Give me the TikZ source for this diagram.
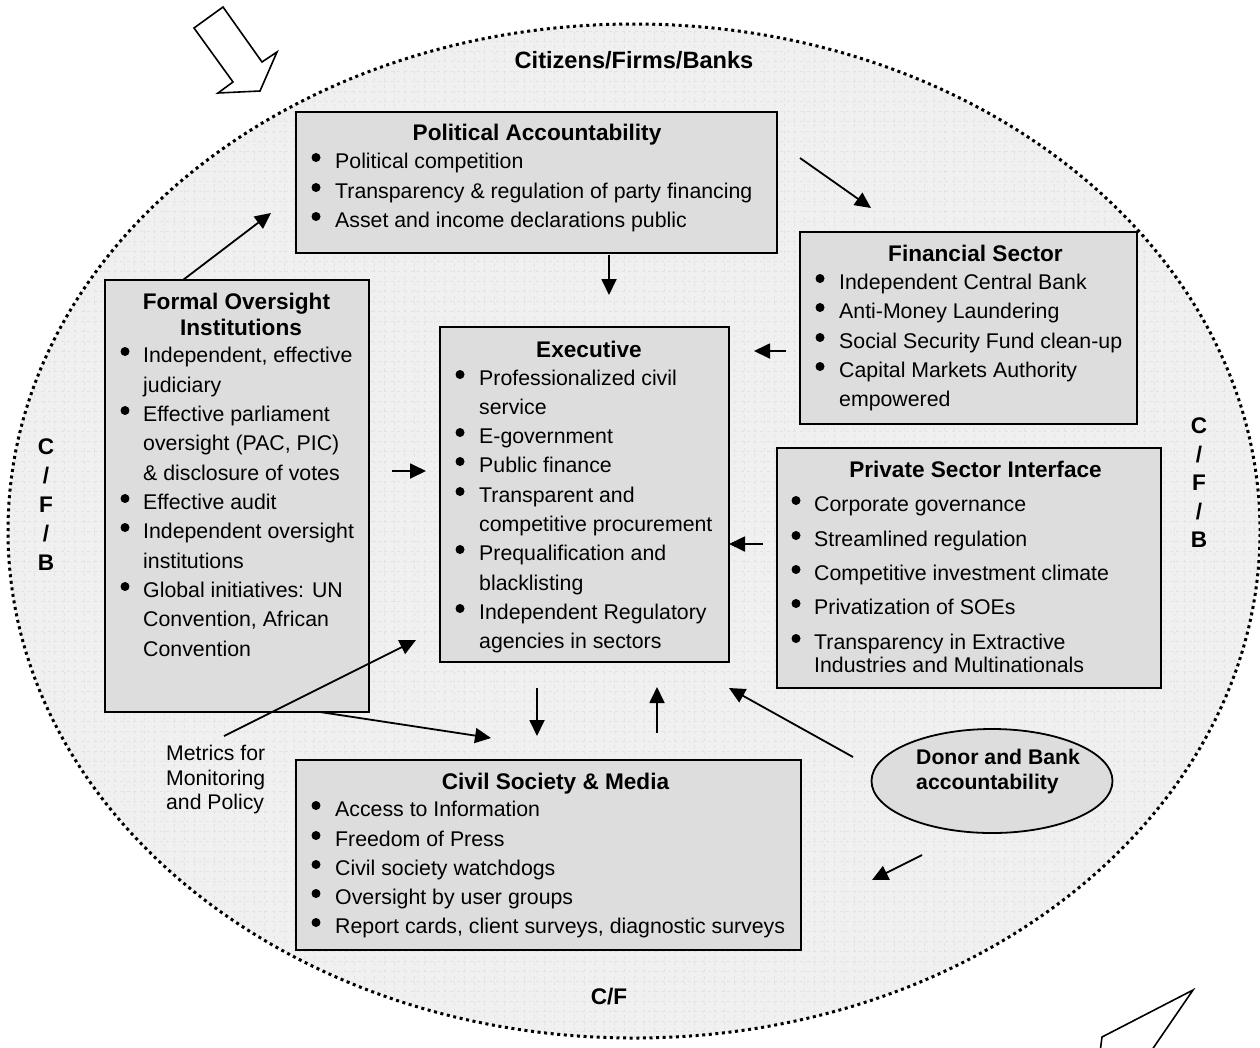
\documentclass[tikz,border=0pt]{standalone}
\usepackage{fontspec}
\setmainfont{Liberation Sans}
\usetikzlibrary{arrows.meta,shapes.geometric}
\definecolor{boxgray}{HTML}{DDDDDD}
\definecolor{bggray}{HTML}{F0F0F0}
\definecolor{gridgray}{HTML}{E3E3E3}
\begin{document}
\begin{tikzpicture}[x=1pt,y=-1pt,
  box/.style={draw=black,line width=1.8pt,fill=boxgray,rectangle,inner sep=0pt,outer sep=0pt},
  ttl/.style={font=\fontsize{22.6}{26}\selectfont\bfseries,anchor=base,inner sep=0pt},
  txt/.style={font=\fontsize{21.3}{25}\selectfont,anchor=base west,inner sep=0pt},
  conn/.style={line width=1.8pt,-{Triangle[length=16pt,width=15pt]}},
  bigarrow/.style={draw=black,line width=1.6pt,fill=white,line join=miter},
]
\useasboundingbox (0,0) rectangle (1260,1047);
\clip (0,0) rectangle (1260,1047);
\fill[white] (0,0) rectangle (1260,1047);

% world ellipse
\node[ellipse,draw=black,fill=bggray,minimum width=1252pt,minimum height=1014pt,inner sep=0pt,
  line width=3pt,dash pattern=on 3pt off 3.6pt,
  path picture={\draw[gridgray,line width=0.7pt] (path picture bounding box.south west) grid[step=10pt] (path picture bounding box.north east);}
  ] (world) at (634,531) {};

% big outline arrows
\draw[bigarrow] (194,28) -- (223,7) -- (262,62) -- (277,52) -- (260,91) -- (218,93) -- (233,82) -- cycle;
\draw[bigarrow] (1099,1060) -- (1102,1037) -- (1193,990) -- (1145,1060);

% outer labels
\node[font=\fontsize{23.6}{28}\selectfont\bfseries,anchor=base,inner sep=0pt] (cfb) at (634,68) {Citizens/Firms/Banks};
\node[ttl] (cf) at (609,1004) {C/F};
\node[font=\fontsize{22.6}{29}\selectfont\bfseries,align=center,inner sep=0pt] (cfbl) at (46,505) {C\\/\\F\\/\\B};
\node[font=\fontsize{22.6}{28.5}\selectfont\bfseries,align=center,inner sep=0pt] (cfbr) at (1199,483) {C\\/\\F\\/\\B};

% boxes
\node[box,minimum width=481pt,minimum height=141pt] (pol) at (536.5,182.5) {};
\node[box,minimum width=337pt,minimum height=192pt] (fin) at (968.5,328) {};
\node[box,minimum width=264pt,minimum height=432pt] (fos) at (237,496) {};
\node[box,minimum width=289pt,minimum height=335pt] (exe) at (584.5,494.5) {};
\node[box,minimum width=384pt,minimum height=240pt] (psi) at (969,568) {};
\node[box,minimum width=505pt,minimum height=190pt] (civ) at (548.5,855) {};
\node[ellipse,draw=black,line width=1.8pt,fill=boxgray,minimum width=241pt,minimum height=104pt,inner sep=0pt] (don) at (992,781) {};

% Political Accountability
\node[ttl] (polt) at (537,140.5) {Political Accountability};
\foreach \yy/\bb/\tx [count=\i] in {
  168.5/1/Political competition,
  198.5/1/Transparency \& regulation of party financing,
  227.5/1/Asset and income declarations public}{
  \node[txt] (pol-l\i) at (335,\yy) {\tx};
  \ifnum\bb=1 \fill (316,\yy-11) circle[radius=4.5pt]; \fi}

% Financial Sector
\node[ttl] (fint) at (975.5,261) {Financial Sector};
\foreach \yy/\bb/\tx [count=\i] in {
  289.5/1/Independent Central Bank,
  318.5/1/Anti-Money Laundering,
  348.5/1/Social Security Fund clean-up,
  377.5/1/Capital Markets Authority,
  406.5/0/empowered}{
  \node[txt] (fin-l\i) at (839,\yy) {\tx};
  \ifnum\bb=1 \fill (820,\yy-11) circle[radius=4.5pt]; \fi}

% Formal Oversight Institutions
\node[ttl] (fost1) at (236.5,309) {Formal Oversight};
\node[ttl] (fost2) at (241,335) {Institutions};
\foreach \yy/\bb/\tx [count=\i] in {
  362.5/1/{Independent, effective},
  392.5/0/judiciary,
  421.5/1/Effective parliament,
  450.5/0/{oversight (PAC, PIC)},
  480.5/0/\& disclosure of votes,
  509.5/1/Effective audit,
  538.5/1/Independent oversight,
  568.5/0/institutions,
  597.5/1/Global initiatives: UN,
  626.5/0/{Convention, African},
  656.5/0/Convention}{
  \node[txt] (fos-l\i) at (143,\yy) {\tx};
  \ifnum\bb=1 \fill (125,\yy-11) circle[radius=4.5pt]; \fi}

% Executive
\node[ttl] (exet) at (589,357) {Executive};
\foreach \yy/\bb/\tx [count=\i] in {
  385.5/1/Professionalized civil,
  414.5/0/service,
  443.5/1/E-government,
  472.5/1/Public finance,
  502.5/1/Transparent and,
  531.5/0/competitive procurement,
  560.5/1/Prequalification and,
  590.5/0/blacklisting,
  619.5/1/Independent Regulatory,
  648.5/0/agencies in sectors}{
  \node[txt] (exe-l\i) at (479,\yy) {\tx};
  \ifnum\bb=1 \fill (460,\yy-11) circle[radius=4.5pt]; \fi}

% Private Sector Interface
\node[ttl] (psit) at (975.5,477) {Private Sector Interface};
\foreach \yy/\bb/\tx [count=\i] in {
  511.5/1/Corporate governance,
  546.5/1/Streamlined regulation,
  580.5/1/Competitive investment climate,
  614.5/1/Privatization of SOEs,
  649.5/1/Transparency in Extractive,
  672.5/0/Industries and Multinationals}{
  \node[txt] (psi-l\i) at (814,\yy) {\tx};
  \ifnum\bb=1 \fill (796,\yy-11) circle[radius=4.5pt]; \fi}

% Civil Society & Media
\node[ttl] (civt) at (555.5,789) {Civil Society \& Media};
\foreach \yy/\bb/\tx [count=\i] in {
  816.5/1/Access to Information,
  846.5/1/Freedom of Press,
  875.5/1/Civil society watchdogs,
  904.5/1/Oversight by user groups,
  933.5/1/{Report cards, client surveys, diagnostic surveys}}{
  \node[txt] (civ-l\i) at (335,\yy) {\tx};
  \ifnum\bb=1 \fill (316,\yy-11) circle[radius=4.5pt]; \fi}

% Donor text
\node[font=\fontsize{21.2}{25}\selectfont\bfseries,align=left,anchor=west,inner sep=0pt] (dont) at (916,771.5) {Donor and Bank\\accountability};

% Metrics text
\node[font=\fontsize{21.2}{24.5}\selectfont,align=left,anchor=west,inner sep=0pt] (met) at (166,780) {Metrics for\\Monitoring\\and Policy};

% connector end points
\coordinate (a1s) at (183,280);  \coordinate (a1e) at (271,213);
\coordinate (a2s) at (800,158);  \coordinate (a2e) at (871,208);
\coordinate (a3s) at (609,255);  \coordinate (a3e) at (609,295);
\coordinate (a4s) at (786,351);  \coordinate (a4e) at (754,351);
\coordinate (a5s) at (392,471);  \coordinate (a5e) at (426,471);
\coordinate (a6s) at (763,544);  \coordinate (a6e) at (729,544);
\coordinate (a7s) at (224,736);  \coordinate (a7e) at (416,640);
\coordinate (a8s) at (320,712);  \coordinate (a8e) at (491,738);
\coordinate (a9s) at (537,688);  \coordinate (a9e) at (537,736);
\coordinate (a10s) at (657,733); \coordinate (a10e) at (657,687);
\coordinate (a11s) at (853,757); \coordinate (a11e) at (729,688);
\coordinate (a12s) at (922,855); \coordinate (a12e) at (872,880);

\foreach \k in {1,...,12}{\draw[conn] (a\k s) -- (a\k e);}
\end{tikzpicture}
\end{document}
